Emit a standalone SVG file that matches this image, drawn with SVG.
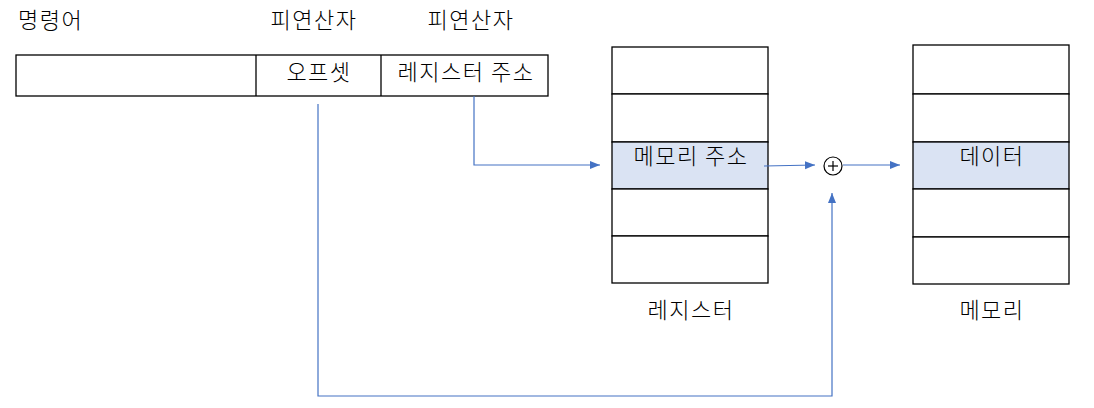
<svg xmlns="http://www.w3.org/2000/svg" width="1094" height="408" viewBox="0 0 1094 408">
<defs>
<style>
text{font-family:"Noto Sans CJK KR","Noto Sans",sans-serif;font-size:22px;font-weight:300;letter-spacing:1.5px;fill:#000;}
.c{text-anchor:middle;}
.box{fill:#fff;stroke:#000;stroke-width:1.3;}
.hl{fill:#DAE3F3;stroke:#000;stroke-width:1.3;}
.ln{fill:none;stroke:#4472C4;stroke-width:1.2;}
</style>
<marker id="ar" viewBox="0 0 10 10" refX="10" refY="5" markerWidth="10" markerHeight="10" markerUnits="userSpaceOnUse" orient="auto">
<path d="M0,1 L10,5 L0,9 z" fill="#4472C4"/>
</marker>
</defs>
<rect width="1094" height="408" fill="#fff"/>
<g id="labels">
<text x="18" y="28">명령어</text>
<text class="c" x="314" y="28">피연산자</text>
<text class="c" x="471" y="28">피연산자</text>
</g>
<g id="instruction">
<rect class="box" x="16" y="55" width="532" height="41"/>
<line x1="256" y1="55" x2="256" y2="96" stroke="#000" stroke-width="1.3"/>
<line x1="381" y1="55" x2="381" y2="96" stroke="#000" stroke-width="1.3"/>
<text class="c" x="319" y="80">오프셋</text>
<text class="c" x="466" y="80">레지스터 주소</text>
</g>
<g id="register">
<rect class="box" x="612" y="47" width="156" height="47"/>
<rect class="box" x="612" y="94" width="156" height="48"/>
<rect class="hl" x="612" y="142" width="156" height="47"/>
<rect class="box" x="612" y="189" width="156" height="47"/>
<rect class="box" x="612" y="236" width="156" height="47"/>
<text class="c" x="691" y="164">메모리 주소</text>
<text class="c" x="691" y="318">레지스터</text>
</g>
<g id="memory">
<rect class="box" x="913" y="45" width="156" height="49"/>
<rect class="box" x="913" y="94" width="156" height="48"/>
<rect class="hl" x="913" y="142" width="156" height="47"/>
<rect class="box" x="913" y="189" width="156" height="48"/>
<rect class="box" x="913" y="237" width="156" height="47"/>
<text class="c" x="992" y="164">데이터</text>
<text class="c" x="992" y="318">메모리</text>
</g>
<g id="adder">
<circle cx="833" cy="166" r="9" fill="#fff" stroke="#000" stroke-width="1.2"/>
<line x1="828" y1="166" x2="838" y2="166" stroke="#000" stroke-width="1.2"/>
<line x1="833" y1="161" x2="833" y2="171" stroke="#000" stroke-width="1.2"/>
</g>
<g id="connectors">
<polyline class="ln" points="474,96 474,165 600,165" marker-end="url(#ar)"/>
<polyline class="ln" points="764,166 815,165" marker-end="url(#ar)"/>
<polyline class="ln" points="843,165 900,165" marker-end="url(#ar)"/>
<polyline class="ln" points="318,104 318,396 832,396 832,193" marker-end="url(#ar)"/>
</g>
</svg>
